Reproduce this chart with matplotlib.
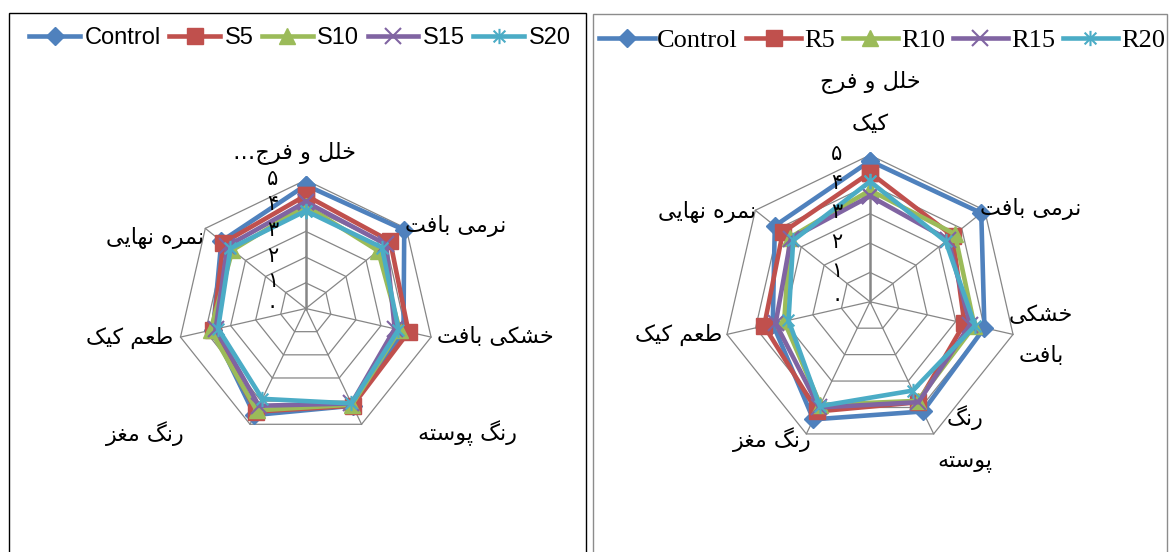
import numpy as np
import matplotlib.pyplot as plt
from matplotlib.patches import Rectangle
from matplotlib.path import Path

# Sensory attributes (clockwise from the top)
categories = ["خلل و فرج کیک", "نرمی بافت", "خشکی بافت", "رنگ پوسته",
              "رنگ مغز", "طعم کیک", "نمره نهایی"]

# Left panel: S samples
s_labels = ["Control", "S5", "S10", "S15", "S20"]
s_control = [4.8, 4.9, 3.9, 4.2, 4.6, 3.7, 4.2]
s_5 = [4.4, 4.2, 4.1, 4.2, 4.45, 3.7, 4.1]
s_10 = [4.0, 3.6, 3.75, 4.15, 4.4, 3.8, 3.65]
s_15 = [4.15, 4.0, 3.55, 4.1, 4.2, 3.6, 3.9]
s_20 = [3.8, 3.8, 3.7, 4.1, 3.9, 3.5, 3.75]

# Right panel: R samples
r_labels = ["Control", "R5", "R10", "R15", "R20"]
r_control = [4.8, 4.85, 4.0, 4.15, 4.45, 3.4, 4.15]
r_5 = [4.4, 3.6, 3.3, 3.8, 4.15, 3.7, 3.8]
r_10 = [3.8, 3.7, 3.65, 3.75, 3.9, 3.0, 3.5]
r_15 = [3.6, 3.4, 3.5, 3.8, 4.0, 3.3, 3.45]
r_20 = [4.1, 3.3, 3.67, 3.36, 3.95, 2.85, 3.35]

ticks = ["۰", "۱", "۲", "۳", "۴", "۵"]

# star marker: an x with a vertical stroke
star = Path([(-1, -1), (1, 1), (-1, 1), (1, -1), (0, -1.3), (0, 1.3)],
            [Path.MOVETO, Path.LINETO, Path.MOVETO, Path.LINETO, Path.MOVETO, Path.LINETO])

colors = ["#4F81BD", "#C0504D", "#9BBB59", "#8064A2", "#4BACC6"]
markers = ["D", "s", "^", "x", star]
msizes = [9, 11, 11, 11, 11]

# minimal Persian shaping (isolated, final, initial, medial)
FORMS = {
    "ا": ("\ufe8d", "\ufe8e"),
    "ب": ("\ufe8f", "\ufe90", "\ufe91", "\ufe92"),
    "پ": ("\ufb56", "\ufb57", "\ufb58", "\ufb59"),
    "ت": ("\ufe95", "\ufe96", "\ufe97", "\ufe98"),
    "ج": ("\ufe9d", "\ufe9e", "\ufe9f", "\ufea0"),
    "خ": ("\ufea5", "\ufea6", "\ufea7", "\ufea8"),
    "ر": ("\ufead", "\ufeae"),
    "ز": ("\ufeaf", "\ufeb0"),
    "س": ("\ufeb1", "\ufeb2", "\ufeb3", "\ufeb4"),
    "ش": ("\ufeb5", "\ufeb6", "\ufeb7", "\ufeb8"),
    "ط": ("\ufec1", "\ufec2", "\ufec3", "\ufec4"),
    "ع": ("\ufec9", "\ufeca", "\ufecb", "\ufecc"),
    "غ": ("\ufecd", "\ufece", "\ufecf", "\ufed0"),
    "ف": ("\ufed1", "\ufed2", "\ufed3", "\ufed4"),
    "ک": ("\ufb8e", "\ufb8f", "\ufb90", "\ufb91"),
    "گ": ("\ufb92", "\ufb93", "\ufb94", "\ufb95"),
    "ل": ("\ufedd", "\ufede", "\ufedf", "\ufee0"),
    "م": ("\ufee1", "\ufee2", "\ufee3", "\ufee4"),
    "ن": ("\ufee5", "\ufee6", "\ufee7", "\ufee8"),
    "ه": ("\ufee9", "\ufeea", "\ufeeb", "\ufeec"),
    "و": ("\ufeed", "\ufeee"),
    "ی": ("\ufbfc", "\ufbfd", "\ufbfe", "\ufbff"),
}


def shape(line):
    out = []
    for i, ch in enumerate(line):
        if ch not in FORMS:
            out.append(ch)
            continue
        prev = line[i - 1] if i > 0 else ""
        nxt = line[i + 1] if i + 1 < len(line) else ""
        f = FORMS[ch]
        jp = prev in FORMS and len(FORMS[prev]) == 4
        jn = len(f) == 4 and nxt in FORMS
        if jp and jn:
            out.append(f[3])
        elif jp:
            out.append(f[1])
        elif jn:
            out.append(f[2])
        else:
            out.append(f[0])
    return "".join(reversed(out))


def fa(text):
    return "\n".join(shape(l) for l in text.split("\n"))


FA_FONT = ["DejaVu Sans"]
n = len(categories)
angles = np.linspace(0, 2 * np.pi, n, endpoint=False)
ang_closed = np.append(angles, angles[0])

fig = plt.figure(figsize=(11.7, 5.52), dpi=100)

# panel frames
fig.add_artist(Rectangle((9 / 1170, -0.05), 577 / 1170, 1.05 - 13 / 552,
                         transform=fig.transFigure, fill=False, ec="black", lw=1.0))
fig.add_artist(Rectangle((593 / 1170, -0.05), 574 / 1170, 1.05 - 14 / 552,
                         transform=fig.transFigure, fill=False, ec="#8C8C8C", lw=1.0))


def radar(rect, series, labels, cat_pos, cat_txt, leg_xy, leg_font, leg_opts):
    ax = fig.add_axes(rect, projection="polar")
    ax.set_theta_zero_location("N")
    ax.set_theta_direction(-1)
    ax.set_ylim(0, 5)
    ax.grid(False)
    ax.spines["polar"].set_visible(False)
    ax.set_xticks([])
    ax.set_yticks([])
    ax.patch.set_alpha(0)

    for lvl in range(1, 6):
        ax.plot(ang_closed, [lvl] * (n + 1), color="#868686", lw=0.9, zorder=1, clip_on=False)
    for i, a in enumerate(angles):
        ax.plot([a, a], [0, 5], color="#868686", lw=1.8 if i == 0 else 0.9, zorder=1, clip_on=False)

    for lvl, t in enumerate(ticks):
        ax.annotate(t, xy=(0, lvl), xytext=(-24, 1), textcoords="offset points",
                    ha="center", va="center", fontsize=15, family=FA_FONT, zorder=6)

    handles = []
    for vals, c, m, ms in zip(series, colors, markers, msizes):
        v = np.append(vals, vals[0])
        thin = m is star or m == "x"
        line, = ax.plot(ang_closed, v, color=c, lw=3.3, marker=m, ms=ms, mfc=c, mec=c,
                        mew=1.5 if thin else 1.0, zorder=3, clip_on=False,
                        solid_joinstyle="miter")
        handles.append(line)

    for (x, y), txt in zip(cat_pos, cat_txt):
        ax.text(x, y, txt, transform=ax.transAxes, ha="center", va="center",
                fontsize=16, family=FA_FONT, linespacing=2.3)

    ax.legend(handles, labels, loc="center", bbox_to_anchor=leg_xy,
              bbox_transform=fig.transFigure, ncol=5, frameon=False,
              prop=leg_font, borderaxespad=0, **leg_opts)
    return ax


left_pos = [(0.458, 1.105), (1.082, 0.822), (1.237, 0.389), (1.128, 0.014),
            (-0.125, 0.014), (-0.184, 0.387), (-0.086, 0.775)]
right_pos = [(0.5, 1.18), (1.046, 0.817), (1.083, 0.386), (0.824, 0.032),
             (0.166, 0.029), (-0.153, 0.387), (-0.057, 0.807)]
left_txt = ["…" + fa("خلل و فرج"), fa("نرمی بافت"), fa("خشکی بافت"), fa("رنگ پوسته"),
            fa("رنگ مغز"), fa("طعم کیک"), fa("نمره نهایی")]
right_txt = [fa("خلل و فرج\nکیک"), fa("نرمی بافت"), fa("خشکی\nبافت"), fa("رنگ\nپوسته"),
             fa("رنگ مغز"), fa("طعم کیک"), fa("نمره نهایی")]

radar([0.1515, 0.2083, 0.2197, 0.4656],
      [s_control, s_5, s_10, s_15, s_20], s_labels, left_pos, left_txt,
      (300 / 1170, 1 - 38 / 552),
      {"family": ["Liberation Sans"], "size": 17},
      dict(handlelength=2.15, handletextpad=0.2, columnspacing=0.35))
radar([0.6182, 0.1876, 0.2508, 0.5315],
      [r_control, r_5, r_10, r_15, r_20], r_labels, right_pos, right_txt,
      (882 / 1170, 1 - 40 / 552),
      {"family": ["Liberation Serif"], "size": 19},
      dict(handlelength=2.1, handletextpad=0.1, columnspacing=0.3))

fig.savefig("out.png", dpi=100, facecolor="white")
